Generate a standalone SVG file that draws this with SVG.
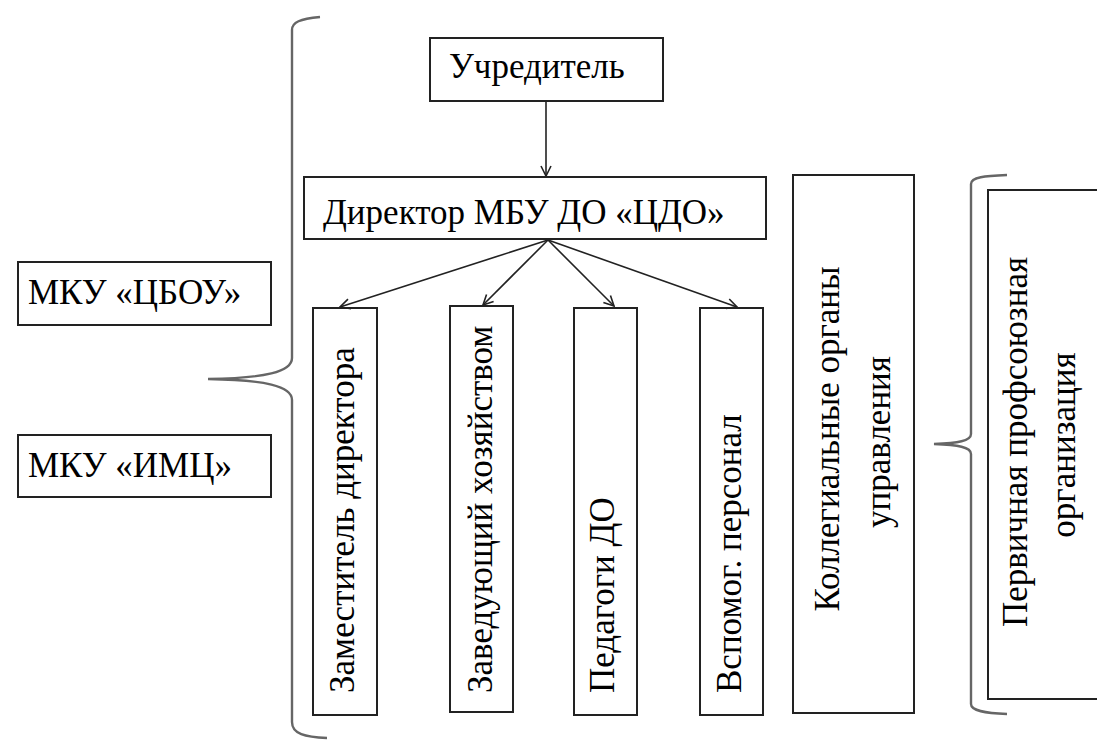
<svg xmlns="http://www.w3.org/2000/svg" width="1097" height="740" viewBox="0 0 1097 740">
<style>
.box{fill:#fff;stroke:#222;stroke-width:2}
.t{font-family:"Liberation Serif","Times New Roman",serif;font-size:35px;fill:#000}
.c{fill:none;stroke:#222;stroke-width:1.6}
.br{fill:none;stroke:#666;stroke-width:2.4}
</style>
<defs>
<marker id="ah" viewBox="0 0 12 12" refX="11" refY="6" markerWidth="12" markerHeight="12" markerUnits="userSpaceOnUse" orient="auto">
<path d="M1,1 L11,6 L1,11" fill="none" stroke="#222" stroke-width="1.6"/>
</marker>
</defs>
<rect width="1097" height="740" fill="#fff"/>
<g id="braces">
<path class="br" d="M320,17 C300,19 292,22 292,30 L292,358 C292,372 265,378 208,379 C265,380 292,386 292,400 L292,722 C292,734 305,737 327,738"/>
<path class="br" d="M1007,175 C985,176 971,177 971,184 L971,434 C971,441 958,443 934,444 C958,445 971,447 971,454 L971,704 C971,711 985,713 1007,714"/>
</g>
<g id="uchreditel"><rect class="box" x="430" y="38" width="233" height="63"/><text class="t" x="449" y="78">Учредитель</text></g>
<g id="director"><rect class="box" x="304" y="177" width="462" height="62"/><text class="t" x="323" y="224">Директор МБУ ДО «ЦДО»</text></g>
<g id="cbou"><rect class="box" x="18" y="262" width="253" height="63"/><text class="t" x="28" y="304">МКУ «ЦБОУ»</text></g>
<g id="imc"><rect class="box" x="18" y="435" width="253" height="62"/><text class="t" x="28" y="477">МКУ «ИМЦ»</text></g>
<g id="zam"><rect class="box" x="313" y="308" width="64" height="407"/><text class="t" transform="translate(354,693) rotate(-90)">Заместитель директора</text></g>
<g id="zavhoz"><rect class="box" x="450" y="306" width="63" height="406"/><text class="t" transform="translate(492,693) rotate(-90)">Заведующий хозяйством</text></g>
<g id="pedagogi"><rect class="box" x="574" y="308" width="63" height="407"/><text class="t" transform="translate(614,693) rotate(-90)">Педагоги ДО</text></g>
<g id="vspomog"><rect class="box" x="700" y="308" width="63" height="407"/><text class="t" transform="translate(741,693) rotate(-90)">Вспомог. персонал</text></g>
<g id="kollegialnye"><rect class="box" x="793" y="175" width="121" height="538"/><text class="t" text-anchor="middle" transform="translate(839,439) rotate(-90)">Коллегиальные органы</text><text class="t" text-anchor="middle" transform="translate(890,442) rotate(-90)">управления</text></g>
<g id="profsoyuz"><rect class="box" x="988" y="190" width="120" height="509"/><text class="t" text-anchor="middle" transform="translate(1027,442) rotate(-90)">Первичная профсоюзная</text><text class="t" text-anchor="middle" transform="translate(1075,445) rotate(-90)">организация</text></g>
<g id="connectors">
<line class="c" x1="546" y1="101" x2="546" y2="176" marker-end="url(#ah)"/>
<line class="c" x1="548" y1="240" x2="340" y2="307" marker-end="url(#ah)"/>
<line class="c" x1="548" y1="240" x2="483" y2="305" marker-end="url(#ah)"/>
<line class="c" x1="548" y1="240" x2="614" y2="306" marker-end="url(#ah)"/>
<line class="c" x1="548" y1="240" x2="737" y2="307" marker-end="url(#ah)"/>
</g>
</svg>
